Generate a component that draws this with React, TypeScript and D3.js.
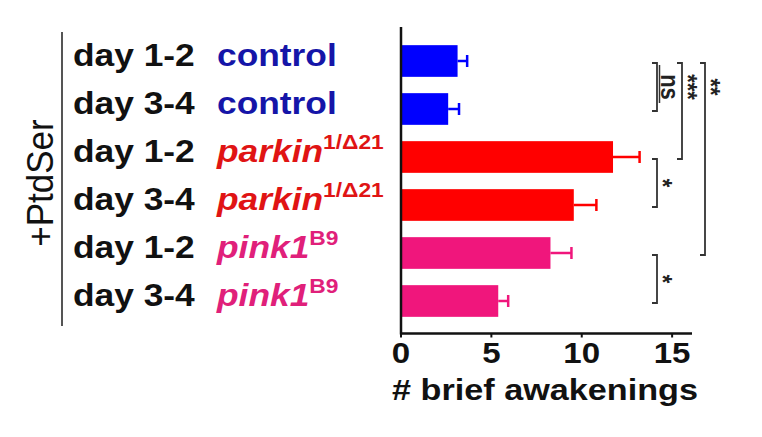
import React from "react";
import * as d3 from "d3";

const dayLabels = ["day 1-2", "day 3-4", "day 1-2", "day 3-4", "day 1-2", "day 3-4"];
const genotypes = ["control", "control", "parkin", "parkin", "pink1", "pink1"];
const superscripts = ["", "", "1/Δ21", "1/Δ21", "B9", "B9"];
const means = [3.13, 2.61, 11.73, 9.56, 8.27, 5.38];
const errors = [0.53, 0.6, 1.47, 1.25, 1.16, 0.55];
const xTicks = [0, 5, 10, 15];
const xTitle = "# brief awakenings";
const groupLabel = "+PtdSer";
const comparisons = [
  { from: 0, to: 1, label: "ns", level: 0 },
  { from: 0, to: 2, label: "***", level: 1 },
  { from: 0, to: 4, label: "**", level: 2 },
  { from: 2, to: 3, label: "*", level: 0 },
  { from: 4, to: 5, label: "*", level: 0 },
];

const barColors: Record<string, string> = { control: "#0000ff", parkin: "#ff0000", pink1: "#f0167c" };
const textColors: Record<string, string> = { control: "#1515a8", parkin: "#e01414", pink1: "#e0207a" };

const SX = 1.14;

export default function App() {
  const W = 762, H = 437;
  const x0 = 401, x1 = 692;
  const x = d3.scaleLinear().domain([0, 16.1]).range([x0, x1]);
  const idx = d3.range(means.length);
  const y = d3.scaleBand<number>().domain(idx).range([37, 325]).paddingInner(0.34).paddingOuter(0.17);
  const axisY = 333.5;
  const font = "'Liberation Sans', Arial, sans-serif";
  const levelX = [657, 682, 705];
  const cy = (i: number) => (y(i) as number) + y.bandwidth() / 2;

  return (
    <svg width={W} height={H} style={{ position: "absolute", left: 0, top: 0, background: "#fff" }} fontFamily={font}>
      {/* bars */}
      {idx.map((i) => {
        const c = barColors[genotypes[i]];
        const yc = cy(i);
        const xe = x(means[i] + errors[i]);
        return (
          <g key={i}>
            <rect x={x(0)} y={y(i)} width={x(means[i]) - x(0)} height={y.bandwidth()} fill={c} />
            <line x1={x(means[i])} x2={xe} y1={yc} y2={yc} stroke={c} strokeWidth={2.5} />
            <line x1={xe} x2={xe} y1={yc - 6} y2={yc + 6} stroke={c} strokeWidth={2.5} />
          </g>
        );
      })}
      {/* y axis */}
      <line x1={x0} x2={x0} y1={27} y2={axisY + 1} stroke="#111" strokeWidth={2.5} />
      {/* x axis */}
      <line x1={x0 - 1} x2={x1} y1={axisY} y2={axisY} stroke="#111" strokeWidth={2.5} />
      {xTicks.map((t) => (
        <g key={t}>
          <line x1={x(t)} x2={x(t)} y1={axisY} y2={axisY + 4} stroke="#111" strokeWidth={2} />
          <text transform={`translate(${x(t)},${axisY + 29}) scale(${SX},1)`} textAnchor="middle" fontSize={29} fontWeight="bold" fill="#111">{t}</text>
        </g>
      ))}
      <text transform={`translate(545,400) scale(${SX},1)`} textAnchor="middle" fontSize={30} fontWeight="bold" fill="#111">{xTitle}</text>
      {/* labels */}
      {idx.map((i) => {
        const g = genotypes[i];
        const base = cy(i) + 5;
        return (
          <g key={"l" + i}>
            <text transform={`translate(73,${base}) scale(${SX},1)`} fontSize={31} fontWeight="bold" fill="#111">{dayLabels[i]}</text>
            <text transform={`translate(217,${base}) scale(${SX},1)`} fontSize={31} fontWeight="bold" fill={textColors[g]} fontStyle={g === "control" ? "normal" : "italic"}>
              {g}
              {superscripts[i] ? (
                <tspan dy={-13} fontSize={20} fontStyle="normal">{superscripts[i]}</tspan>
              ) : null}
            </text>
          </g>
        );
      })}
      <line x1={62} x2={62} y1={32} y2={326} stroke="#555" strokeWidth={2} />
      <text transform={`translate(53,183) scale(1.08,1) rotate(-90)`} textAnchor="middle" fontSize={35} fill="#111">{groupLabel}</text>
      {/* significance */}
      {comparisons.map((c, k) => {
        const lx = levelX[c.level];
        const ya = cy(c.from) + 2, yb = cy(c.to) + 2;
        const ty = (cy(c.from) + cy(c.from + 1)) / 2 + 2;
        const isStar = c.label !== "ns";
        const tx = isStar ? lx - 3 : lx + 4;
        return (
          <g key={"s" + k}>
            <path d={`M${lx - 5},${ya}H${lx}V${yb}H${lx - 5}`} fill="none" stroke="#333" strokeWidth={1.8} />
            {!isStar ? (
              <line x1={tx - 1.5} x2={tx - 1.5} y1={ya + 2} y2={yb - 8} stroke="#333" strokeWidth={1.5} />
            ) : null}
            <text transform={`translate(${tx},${ty}) scale(${SX},1) rotate(90)`} textAnchor="middle" fontSize={22} fontWeight="bold" fill="#222">{c.label}</text>
          </g>
        );
      })}
    </svg>
  );
}
